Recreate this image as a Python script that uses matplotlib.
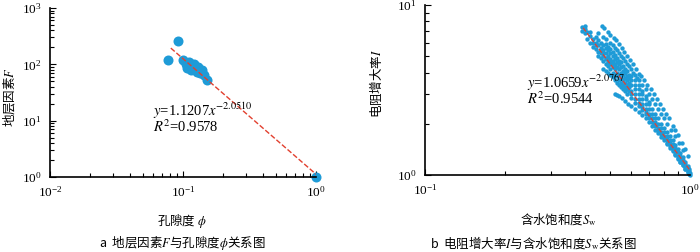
import matplotlib
matplotlib.use("Agg")
import matplotlib.pyplot as plt
from matplotlib.ticker import NullFormatter
import numpy as np

plt.rcParams["font.family"] = ["Liberation Serif", "Noto Sans CJK SC"]
plt.rcParams["mathtext.fontset"] = "stix"
plt.rcParams["font.size"] = 9
CJK = "Noto Sans CJK SC"

dot_color = "#1e9bd7"
fit_color = "#e2402f"

# panel a: porosity vs formation factor
phi = [0.092, 0.0776, 0.100, 0.110, 0.107, 0.119, 0.127, 0.138, 0.144, 0.151,
       0.105, 0.120, 0.130, 0.115, 0.135, 0.125, 1.0]
F = [255, 117, 117, 108, 85, 91, 74, 80, 65, 53,
     100, 100, 88, 80, 70, 78, 1.0]
fit_a = (1.1207, -2.0510)
fit_a_range = (0.081, 1.0)

# panel b: water saturation vs resistivity index
upper_pts = [(0.465, 7.5), (0.475, 7.3), (0.49, 6.9), (0.50, 6.7), (0.515, 6.4),
             (0.525, 6.2), (0.54, 5.9), (0.555, 5.6), (0.565, 5.3), (0.58, 5.0),
             (0.595, 4.75), (0.61, 4.5), (0.625, 4.2), (0.64, 3.95), (0.655, 3.8),
             (0.67, 3.6), (0.69, 3.4), (0.71, 3.2), (0.73, 3.0), (0.75, 2.8),
             (0.77, 2.6), (0.79, 2.45), (0.81, 2.3), (0.83, 2.15), (0.86, 1.95),
             (0.88, 1.85), (0.90, 1.72), (0.93, 1.55), (0.96, 1.42), (0.98, 1.3)]

mid_pts = [(0.45, 6.8), (0.47, 6.5), (0.48, 6.3), (0.50, 6.0), (0.51, 5.8),
           (0.52, 5.6), (0.53, 5.4), (0.54, 5.2), (0.55, 5.0), (0.56, 4.9),
           (0.57, 4.7), (0.58, 4.5), (0.59, 4.4), (0.60, 4.2), (0.61, 4.0),
           (0.62, 3.9), (0.63, 3.7), (0.64, 3.6), (0.66, 3.4), (0.68, 3.2),
           (0.70, 3.0), (0.72, 2.8), (0.74, 2.6), (0.76, 2.45), (0.78, 2.3),
           (0.80, 2.15), (0.82, 2.0), (0.85, 1.85), (0.88, 1.7), (0.91, 1.55),
           (0.94, 1.4)]

inner_low_pts = [(0.47, 4.2), (0.48, 4.1), (0.49, 4.0), (0.50, 3.9), (0.51, 3.75),
                 (0.52, 3.6), (0.53, 3.5), (0.54, 3.4), (0.55, 3.3), (0.56, 3.2),
                 (0.57, 3.1), (0.58, 3.0), (0.60, 2.85), (0.62, 2.65), (0.64, 2.55),
                 (0.66, 2.4), (0.68, 2.3), (0.70, 2.15), (0.73, 2.0), (0.76, 1.82),
                 (0.79, 1.7), (0.82, 1.6), (0.85, 1.5), (0.88, 1.4), (0.91, 1.3),
                 (0.94, 1.2), (0.97, 1.1)]

lower_pts = [(0.52, 3.0), (0.53, 2.95), (0.54, 2.9), (0.555, 2.82), (0.57, 2.72),
             (0.585, 2.62), (0.60, 2.55), (0.62, 2.45), (0.64, 2.35), (0.66, 2.25),
             (0.68, 2.15), (0.70, 2.05), (0.72, 1.95), (0.74, 1.85), (0.76, 1.77),
             (0.78, 1.68), (0.80, 1.6), (0.82, 1.52), (0.84, 1.45), (0.86, 1.38),
             (0.88, 1.31), (0.90, 1.25), (0.92, 1.19), (0.94, 1.14), (0.96, 1.09),
             (0.98, 1.04)]

band_rows = [
    (0.39, [7.4, 7.0]),
    (0.40, [7.2, 6.8, 7.5]),
    (0.41, [6.9, 6.3]),
    (0.42, [6.6, 6.0, 6.9]),
    (0.43, [6.3, 5.7, 6.0]),
    (0.44, [6.0, 5.5, 5.8, 6.5]),
    (0.45, [5.8, 5.3, 5.0, 6.2]),
    (0.46, [5.6, 5.2, 4.9, 6.0, 5.4]),
    (0.47, [5.4, 5.0, 4.7, 5.8, 5.2]),
    (0.48, [5.2, 4.8, 4.5, 5.6, 4.9, 5.9]),
    (0.49, [5.0, 4.6, 4.4, 5.4, 4.8, 5.7]),
    (0.50, [4.8, 4.5, 4.2, 5.2, 4.6, 5.5]),
    (0.51, [4.7, 4.3, 4.0, 5.0, 4.5, 5.3]),
    (0.52, [4.5, 4.2, 3.9, 4.8, 4.3, 5.1]),
    (0.53, [4.3, 4.0, 3.8, 4.6, 4.9]),
    (0.54, [4.2, 3.9, 3.6, 4.5, 4.7]),
    (0.55, [4.0, 3.7, 3.5, 4.3, 4.6]),
    (0.56, [3.9, 3.6, 3.4, 4.1, 4.4]),
    (0.57, [3.7, 3.5, 3.3, 4.0, 4.2]),
    (0.58, [3.6, 3.4, 3.2, 3.8, 4.1]),
    (0.59, [3.5, 3.3, 3.1, 3.7, 3.9]),
    (0.60, [3.4, 3.1, 3.0, 3.6, 3.8]),
    (0.62, [3.2, 3.0, 2.8, 3.4, 3.6]),
    (0.64, [3.0, 2.8, 2.65, 3.2, 3.4]),
    (0.66, [2.8, 2.6, 2.5, 3.0, 3.1]),
    (0.68, [2.6, 2.45, 2.35, 2.8, 2.9]),
    (0.70, [2.45, 2.3, 2.2, 2.6, 2.7]),
    (0.72, [2.3, 2.15, 2.05, 2.45]),
    (0.74, [2.15, 2.05, 1.95, 2.3]),
    (0.76, [2.0, 1.9, 1.85, 2.15]),
    (0.78, [1.9, 1.8, 1.75, 2.0]),
    (0.80, [1.8, 1.7, 1.65, 1.9]),
    (0.82, [1.7, 1.62, 1.55, 1.8]),
    (0.84, [1.6, 1.55, 1.48, 1.7]),
    (0.86, [1.52, 1.46, 1.4, 1.6]),
    (0.88, [1.44, 1.38, 1.33, 1.5]),
    (0.90, [1.36, 1.3, 1.26, 1.42]),
    (0.92, [1.29, 1.24, 1.2, 1.34]),
    (0.94, [1.22, 1.18, 1.14, 1.27]),
    (0.96, [1.16, 1.12, 1.09, 1.2]),
    (0.98, [1.1, 1.07, 1.04, 1.13]),
    (0.99, [1.05, 1.02, 1.08]),
    (1.00, [1.0, 1.03]),
]
fit_b = (1.0659, -2.0767)
fit_b_range = (0.395, 1.0)

band_sw = [sw for sw, vals in band_rows for _ in vals]
band_i = [v for _, vals in band_rows for v in vals]
sw_all = list(band_sw)
i_all = list(band_i)
for pts in (upper_pts, mid_pts, inner_low_pts, lower_pts):
    s_, i_ = zip(*pts)
    sw_all += list(s_)
    i_all += list(i_)


def style_axes(ax):
    ax.set_xscale("log")
    ax.set_yscale("log")
    for s in ["top", "right"]:
        ax.spines[s].set_visible(False)
    for s in ["left", "bottom"]:
        ax.spines[s].set_linewidth(1.2)
    ax.tick_params(which="both", direction="in", width=0.8, labelsize=9.5, pad=6)
    ax.tick_params(which="major", length=4)
    ax.tick_params(which="minor", length=3)
    ax.xaxis.set_minor_formatter(NullFormatter())
    ax.yaxis.set_minor_formatter(NullFormatter())


fig = plt.figure(figsize=(7.0, 2.52), dpi=100)

# panel a
ax1 = fig.add_axes([50 / 700, 75 / 252, 266 / 700, 169 / 252])
style_axes(ax1)
ax1.scatter(phi, F, s=52, color=dot_color, zorder=2, clip_on=False, linewidths=0)
xa = np.array(fit_a_range)
ax1.plot(xa, fit_a[0] * xa ** fit_a[1], "--", color=fit_color, lw=1, zorder=3)
ax1.set_xlim(0.01, 1.0)
ax1.set_ylim(1, 1000)
ax1.text(0.387, 0.36, "$y$=1.1207$x^{-2.0510}$", transform=ax1.transAxes, fontsize=10.5)
ax1.text(0.387, 0.265, "$R^2$=0.9578", transform=ax1.transAxes, fontsize=10.5)
ax1.set_xlabel("孔隙度 $\\phi$", fontsize=9, family=CJK)
ax1.xaxis.set_label_coords(0.496, -0.205)
ax1.set_ylabel("地层因素$F$", fontsize=9, family=CJK)
ax1.yaxis.set_label_coords(-0.125, 0.473)

# panel b
ax2 = fig.add_axes([425 / 700, 77 / 252, 265 / 700, 170 / 252])
style_axes(ax2)
ax2.scatter(sw_all, i_all, s=10, color=dot_color, zorder=2, clip_on=False, linewidths=0)
xb = np.array(fit_b_range)
ax2.plot(xb, fit_b[0] * xb ** fit_b[1], "--", color=fit_color, lw=0.9, zorder=3)
ax2.set_xlim(0.1, 1.0)
ax2.set_ylim(1, 10)
ax2.text(0.385, 0.51, "$y$=1.0659$x^{-2.0767}$", transform=ax2.transAxes, fontsize=10.5)
ax2.text(0.385, 0.415, "$R^2$=0.9544", transform=ax2.transAxes, fontsize=10.5)
ax2.set_xlabel("含水饱和度$S_{\\mathrm{w}}$", fontsize=9, family=CJK)
ax2.xaxis.set_label_coords(0.502, -0.216)
ax2.set_ylabel("电阻增大率$I$", fontsize=9, family=CJK)
ax2.yaxis.set_label_coords(-0.155, 0.54)

fig.text(182 / 700, 1 - 243 / 252, "a  地层因素$F$与孔隙度$\\phi$关系图",
         ha="center", va="center", fontsize=9, family=CJK)
fig.text(533 / 700, 1 - 243 / 252, "b  电阻增大率$I$与含水饱和度$S_{\\mathrm{w}}$关系图",
         ha="center", va="center", fontsize=9, family=CJK)

fig.savefig("out.png", dpi=100)
